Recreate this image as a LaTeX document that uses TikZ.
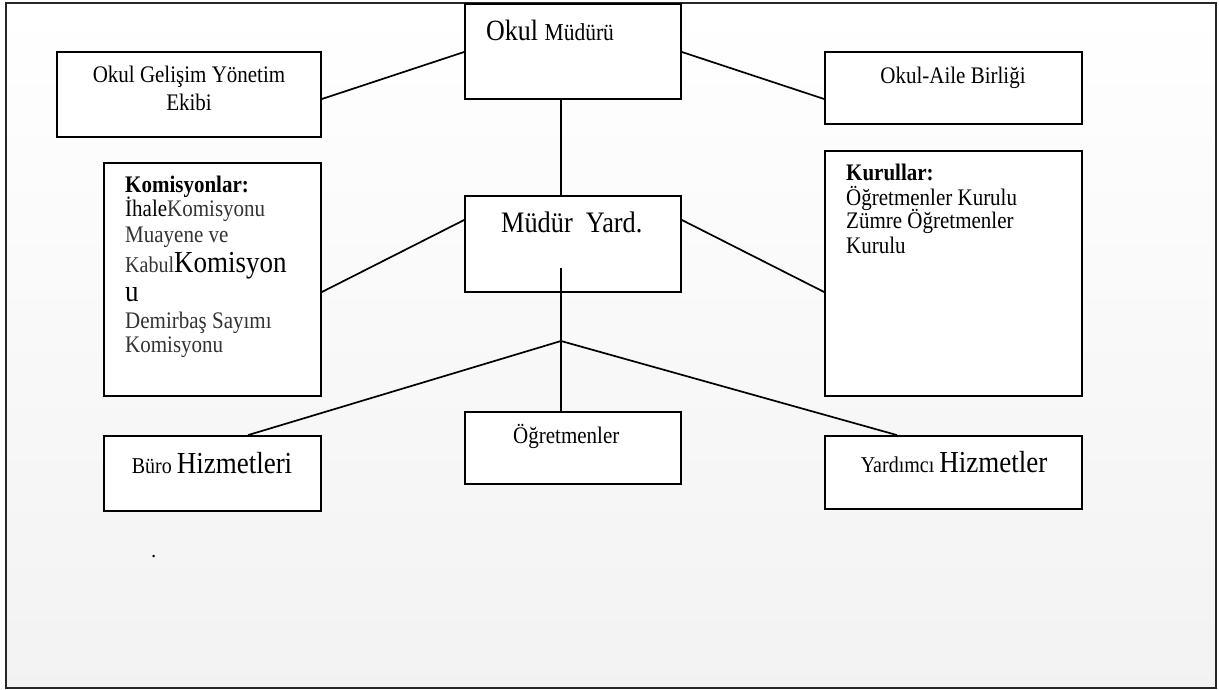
\documentclass[tikz,border=0pt]{standalone}
\usepackage{graphicx}
\usepackage{fontspec}
\setmainfont{Liberation Serif}
\usetikzlibrary{calc}
\newcommand\fsz[1]{\fontsize{#1}{#1}\selectfont}
\newcommand\vstr[1]{\scalebox{1}[1.13]{#1}}
\definecolor{txtgray}{HTML}{333333}
\tikzset{
  box/.style={draw=black, fill=white, line width=1.8pt, rectangle, inner sep=0pt},
  conn/.style={draw=black, line width=1.7pt},
  lt/.style={anchor=base west, inner sep=0pt, font=\fsz{21}},
  ct/.style={anchor=base, inner sep=0pt, font=\fsz{21}},
}
\begin{document}
\begin{tikzpicture}[x=1pt,y=-1pt]
\useasboundingbox (0,0) rectangle (1219,690);
\fill[white] (0,0) rectangle (1219,690);
\shade[top color=white, bottom color=black!5] (6,3) rectangle (1216,688);
\draw[line width=2pt, draw=black!85] (6,3) rectangle (1216,688);

% boxes
\node[box, minimum width=216pt, minimum height=95pt] (omud) at (573,51.5) {};
\node[box, minimum width=264pt, minimum height=85pt] (ogy) at (189,94.5) {};
\node[box, minimum width=257pt, minimum height=72pt] (oab) at (953.5,88) {};
\node[box, minimum width=216pt, minimum height=96pt] (myard) at (573,244) {};
\node[box, minimum width=217pt, minimum height=233pt] (kom) at (212.5,279.5) {};
\node[box, minimum width=257pt, minimum height=245pt] (kur) at (953.5,273.5) {};
\node[box, minimum width=217pt, minimum height=75pt] (buro) at (212.5,473.5) {};
\node[box, minimum width=216pt, minimum height=72pt] (ogr) at (573,448) {};
\node[box, minimum width=257pt, minimum height=73pt] (yard) at (953.5,472.5) {};

% connectors
\draw[conn] ($(ogy.east)+(0,4.5)$) -- ($(omud.west)+(0,0.5)$);
\draw[conn] ($(omud.east)+(0,0.5)$) -- ($(oab.west)+(0,11)$);
\draw[conn] ($(omud.south)+(-12,0)$) -- ($(myard.north)+(-12,0)$);
\draw[conn] ($(kom.east)+(0,12.5)$) -- ($(myard.west)+(0,-24)$);
\draw[conn] ($(myard.east)+(0,-24)$) -- ($(kur.west)+(0,18.5)$);
\coordinate (ms) at (561,268);
\coordinate (j) at (561,341);
\draw[conn] (ms) -- (j);
\draw[conn] (j) -- ($(ogr.north)+(-12,0)$);
\draw[conn] (j) -- ($(buro.north)+(35.5,0)$);
\draw[conn] (j) -- ($(yard.north)+(-56.5,0)$);

% texts
\node[lt] (tomud) at (486,41) {\vstr{\fsz{26}Okul \fsz{21.5}Müdürü}};
\node[ct] (togy1) at (189,83) {\vstr{Okul Gelişim Yönetim}};
\node[ct] (togy2) at (189,111) {\vstr{Ekibi}};
\node[ct] (toab) at (953,84) {\vstr{Okul-Aile Birliği}};
\node[lt] (tmy) at (501,233) {\vstr{\fsz{26.3}Müdür\hspace{0.25em} Yard.}};
\node[lt] (togr) at (513,443) {\vstr{Öğretmenler}};
\node[ct] (tburo) at (212,473) {\vstr{\fsz{20}Büro \fsz{27}Hizmetleri}};
\node[ct] (tyard) at (954,472) {\vstr{\fsz{20}Yardımcı \fsz{27}Hizmetler}};

\node[lt] (k1) at (125,193) {\vstr{\bfseries Komisyonlar:}};
\node[lt] (k2) at (125,217) {\vstr{İhale\textcolor{txtgray}{Komisyonu}}};
\node[lt, text=txtgray] (k3) at (125,242) {\vstr{Muayene ve}};
\node[lt] (k4) at (125,272) {\vstr{\textcolor{txtgray}{\fsz{20}Kabul}\fsz{27}Komisyon}};
\node[lt] (k5) at (125,301) {\vstr{\fsz{27}u}};
\node[lt, text=txtgray] (k6) at (125,328) {\vstr{Demirbaş Sayımı}};
\node[lt, text=txtgray] (k7) at (125,352) {\vstr{Komisyonu}};

\node[lt] (r1) at (846,181) {\vstr{\bfseries Kurullar:}};
\node[lt] (r2) at (846,205) {\vstr{Öğretmenler Kurulu}};
\node[lt] (r3) at (846,229) {\vstr{Zümre Öğretmenler}};
\node[lt] (r4) at (846,253) {\vstr{Kurulu}};

\node[lt] (dot) at (151,557) {.};
\end{tikzpicture}
\end{document}
